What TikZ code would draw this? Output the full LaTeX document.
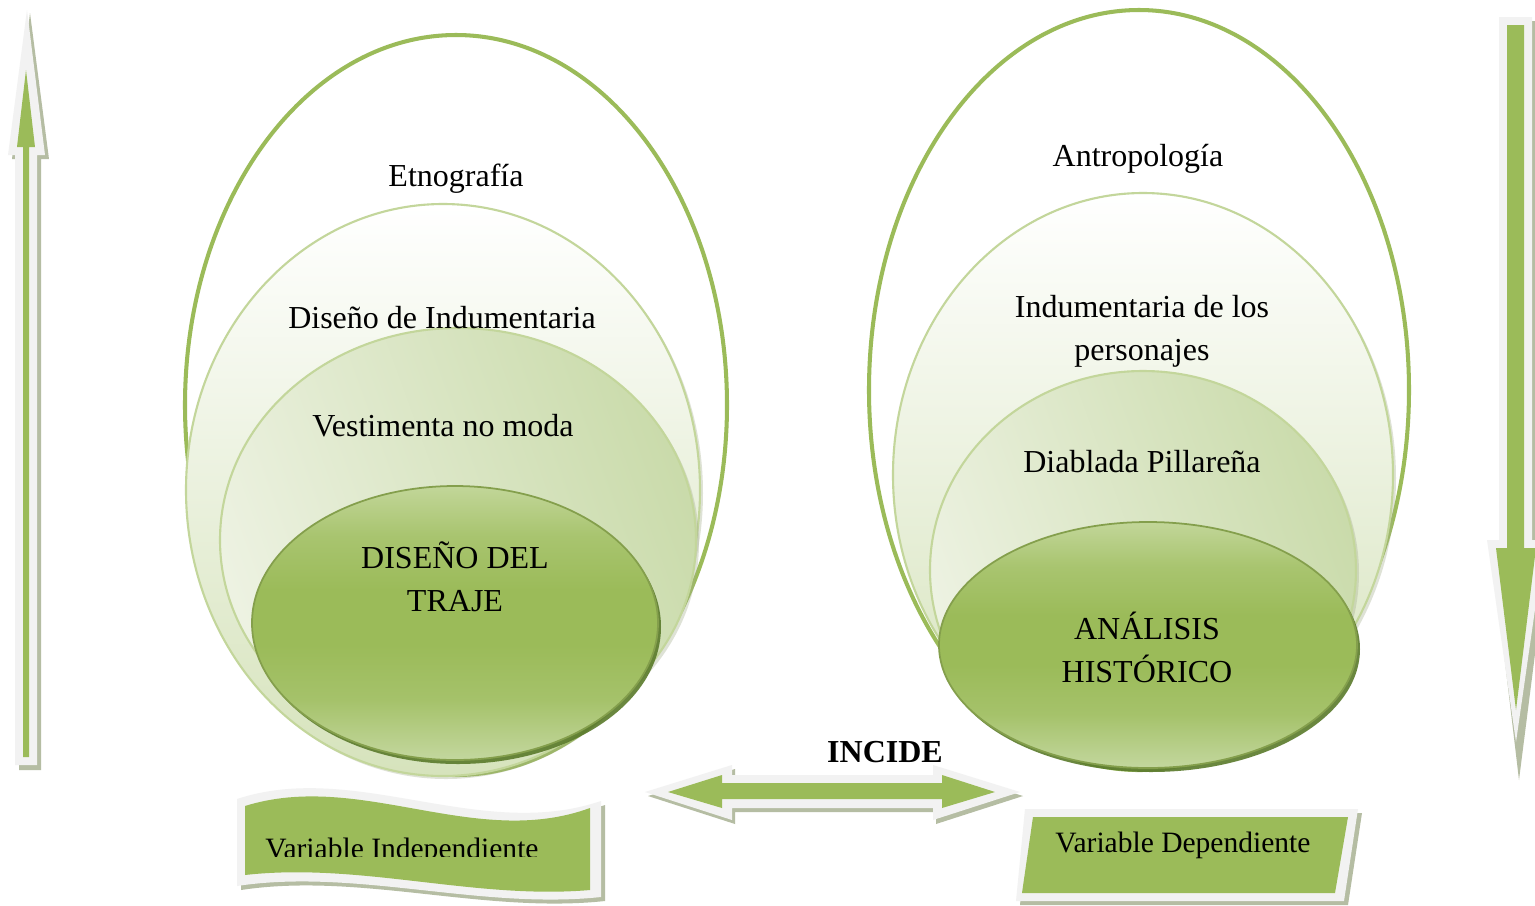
\documentclass[tikz,border=0pt]{standalone}
\usepackage{fontspec}
\setmainfont{Liberation Serif}
\definecolor{vgreen}{HTML}{9BBB59}
\definecolor{vlight}{HTML}{C3D69B}
\definecolor{vwhite}{HTML}{F2F2F2}
\definecolor{vshadow}{HTML}{A3AD8C}
\definecolor{vdark}{HTML}{5A7A2B}
\definecolor{vpale}{HTML}{D6E3BC}
\definecolor{vtopcore}{HTML}{C2D699}
\definecolor{vbotcore}{HTML}{C3D79E}
\definecolor{vthirdA}{HTML}{EDF2E2}
\definecolor{vthirdB}{HTML}{CADBAB}
\pgfdeclareverticalshading{coreshade}{100bp}{color(0bp)=(vbotcore); color(25bp)=(vbotcore); color(36bp)=(vgreen!75!vbotcore); color(46bp)=(vgreen); color(56bp)=(vgreen); color(66bp)=(vgreen!65!vtopcore); color(75bp)=(vtopcore); color(100bp)=(vtopcore)}
\tikzset{
  lbl/.style={font=\fontsize{9.1}{12}\selectfont, align=center, inner sep=0pt, anchor=base},
  smalllbl/.style={font=\fontsize{8.4}{11}\selectfont, align=center, inner sep=0pt, anchor=base},
  outerring/.style={draw=vgreen, line width=1.15pt},
  midell/.style={top color=white, bottom color=vpale, draw=vlight, line width=0.6pt},
  thirdell/.style={left color=vthirdA, right color=vthirdB, shading angle=110, draw=vlight, line width=0.6pt},
  coreell/.style={shade, shading=coreshade, draw=vgreen!85!black, line width=0.5pt},
  softshadow/.style={fill=vshadow, opacity=0.35},
  coreshadow/.style={fill=vdark, opacity=0.9},
  arrowshadow/.style={fill=vshadow, opacity=0.8},
  arrowbody/.style={fill=vwhite},
  arrowcore/.style={fill=vgreen},
}
\begin{document}
\begin{tikzpicture}[x=0.01cm,y=-0.01cm]
\useasboundingbox (0,0) rectangle (1535,905);
\clip (0,0) rectangle (1535,905);
\fill[white] (0,0) rectangle (1535,905);

% ---------------- left group ----------------
\path[outerring] (456,405) ellipse [x radius=271, y radius=370];
\path[softshadow] (446,493) ellipse [x radius=257, y radius=286];
\path[midell] (443,490) ellipse [x radius=257, y radius=286];
\path[softshadow] (461,543) ellipse [x radius=238, y radius=212];
\path[thirdell] (458,540) ellipse [x radius=238, y radius=212];
\path[coreshadow] (458,627) ellipse [x radius=203, y radius=137];
\path[coreell] (455,623) ellipse [x radius=203, y radius=137];

\node[lbl] (etno) at (456,186) {Etnografía};
\node[lbl] (disind) at (442,328) {Diseño de Indumentaria};
\node[lbl] (vest) at (443,436) {Vestimenta no moda};
\node[lbl] (traje) at (455,611) {DISEÑO DEL\\TRAJE};

% ---------------- right group ----------------
\path[outerring] (1139,390) ellipse [x radius=270, y radius=380];
\path[softshadow] (1146,478) ellipse [x radius=250, y radius=282];
\path[midell] (1143,475) ellipse [x radius=250, y radius=282];
\path[softshadow] (1146,573) ellipse [x radius=213, y radius=199];
\path[thirdell] (1143,570) ellipse [x radius=213, y radius=199];
\path[coreshadow] (1151,649) ellipse [x radius=209, y radius=123];
\path[coreell] (1148,645) ellipse [x radius=209, y radius=123];

\node[lbl] (antro) at (1138,166) {Antropología};
\node[lbl] (indper) at (1142,360) {Indumentaria de los\\personajes};
\node[lbl] (diab) at (1142,472) {Diablada Pillareña};
\node[lbl] (anal) at (1147,682) {ANÁLISIS\\HISTÓRICO};

% ---------------- left up arrow ----------------
\path[arrowshadow] (30,13) -- (49,159) -- (41,159) -- (41,770) -- (19,770) -- (19,159) -- (12,159) -- cycle;
\path[arrowbody] (27,10) -- (45,155) -- (37,155) -- (37,765) -- (15,765) -- (15,155) -- (8,155) -- cycle;
\path[arrowcore] (26,70) -- (35,147) -- (29,147) -- (29,757) -- (23,757) -- (23,147) -- (17,147) -- cycle;

% ---------------- right down arrow ----------------
\path[arrowshadow] (1503,21) -- (1536,21) -- (1536,544) -- (1549,544) -- (1519,780) -- (1491,544) -- (1503,544) -- cycle;
\path[arrowbody] (1499,17) -- (1532,17) -- (1532,540) -- (1545,540) -- (1516,742) -- (1487,540) -- (1499,540) -- cycle;
\path[arrowcore] (1507,25) -- (1524,25) -- (1524,548) -- (1536,548) -- (1516,710) -- (1496,548) -- (1507,548) -- cycle;

% ---------------- double arrow ----------------
\path[arrowshadow] (648,796) -- (735,769) -- (735,779) -- (936,779) -- (936,769) -- (1023,796) -- (936,824) -- (936,812) -- (735,812) -- (735,824) -- cycle;
\path[arrowbody] (645,792) -- (732,765) -- (732,775) -- (933,775) -- (933,765) -- (1020,792) -- (933,820) -- (933,808) -- (732,808) -- (732,820) -- cycle;
\path[arrowcore] (668,792) -- (722,775) -- (722,783) -- (942,783) -- (942,775) -- (995,792) -- (942,808) -- (942,799) -- (722,799) -- (722,808) -- cycle;
\node[lbl, font=\fontsize{9.1}{12}\selectfont\bfseries] (incide) at (885,762) {INCIDE};

% ---------------- wave banner ----------------
\path[arrowshadow] (241,803) .. controls (359,764) and (484,846) .. (605,805) -- (605,901) .. controls (484,914) and (359,872) .. (241,890) -- cycle;
\path[arrowbody] (237,799) .. controls (355,760) and (480,842) .. (601,801) -- (601,897) .. controls (480,910) and (355,868) .. (237,886) -- cycle;
\path[arrowcore] (245,806) .. controls (360,770) and (475,850) .. (590,808) -- (590,890) .. controls (475,900) and (360,862) .. (245,875) -- cycle;
\begin{scope}
  \clip (230,790) rectangle (610,856);
  \node[smalllbl] (vind) at (402,858) {Variable Independiente};
\end{scope}

% ---------------- parallelogram ----------------
\path[arrowshadow] (1029,813) -- (1362,813) -- (1348,905) -- (1020,905) -- cycle;
\path[arrowbody] (1025,809) -- (1358,809) -- (1344,901) -- (1016,901) -- cycle;
\path[arrowcore] (1033,817) -- (1348,817) -- (1335,893) -- (1022,893) -- cycle;
\node[smalllbl] (vdep) at (1183,852) {Variable Dependiente};
\end{tikzpicture}
\end{document}
